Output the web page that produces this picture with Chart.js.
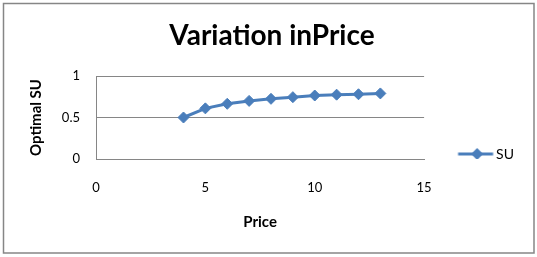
<!DOCTYPE html>
<html>
<head>
<meta charset="utf-8">
<script src="https://cdn.jsdelivr.net/npm/chart.js@4.4.1/dist/chart.umd.min.js"></script>
<style>
  html, body { margin: 0; padding: 0; background: #fff; }
  canvas { display: block; }
</style>
</head>
<body>
<canvas id="myChart" width="537" height="257"></canvas>
<script>
// данные графика
var chartTitle = 'Variation inPrice';
var xTitle = 'Price';
var yTitle = 'Optimal SU';
var seriesName = 'SU';
var prices = [4, 5, 6, 7, 8, 9, 10, 11, 12, 13];
var optimalSU = [0.5, 0.61, 0.665, 0.70, 0.725, 0.745, 0.765, 0.775, 0.78, 0.79];
var xTicks = [0, 5, 10, 15];
var yTicks = [0, 0.5, 1];

var blue = '#4A7EBB';
var gray = '#868686';
var fontName = 'Lato';

// маркер для легенды: линия с ромбом
function legendMarker() {
  var c = document.createElement('canvas');
  c.width = 70;
  c.height = 14;
  var g = c.getContext('2d');
  g.strokeStyle = blue;
  g.lineWidth = 3;
  g.beginPath();
  g.moveTo(31.5, 7);
  g.lineTo(66.5, 7);
  g.stroke();
  g.fillStyle = blue;
  g.beginPath();
  g.moveTo(50.5 - 6, 7);
  g.lineTo(50.5, 1);
  g.lineTo(50.5 + 6, 7);
  g.lineTo(50.5, 13);
  g.closePath();
  g.fill();
  return c;
}

// рамка вокруг всей диаграммы
var frame = {
  id: 'frame',
  afterDraw: function(chart) {
    var ctx = chart.ctx;
    ctx.save();
    ctx.strokeStyle = gray;
    ctx.lineWidth = 1.5;
    ctx.strokeRect(3.5, 3.5, 530.5, 249.5);
    ctx.restore();
  }
};

var points = prices.map(function(p, i) { return { x: p, y: optimalSU[i] }; });

var ctx = document.getElementById('myChart').getContext('2d');
var myChart = new Chart(ctx, {
  type: 'scatter',
  data: {
    datasets: [{
      label: seriesName,
      data: points,
      showLine: true,
      borderColor: blue,
      backgroundColor: blue,
      borderWidth: 3,
      pointStyle: 'rectRot',
      pointRadius: 5.5,
      pointBorderWidth: 1,
      pointBorderColor: blue,
      pointBackgroundColor: blue
    }]
  },
  options: {
    responsive: false,
    animation: false,
    devicePixelRatio: 1,
    layout: { padding: { left: 20, right: 13, top: 0, bottom: 10 } },
    plugins: {
      title: {
        display: true,
        text: chartTitle,
        color: '#000',
        font: { family: fontName, size: 28, weight: 'bold', lineHeight: 1.2 },
        padding: { top: 19, bottom: 23.4 }
      },
      legend: {
        position: 'right',
        align: 'start',
        fullSize: false,
        title: { display: true, text: '', font: { size: 10, lineHeight: 1.2 }, padding: { top: 49, bottom: 0 } },
        labels: {
          usePointStyle: true,
          pointStyle: legendMarker(),
          pointStyleWidth: 55,
          padding: 10,
          color: '#000',
          font: { family: fontName, size: 14 }
        }
      },
      tooltip: { enabled: false }
    },
    scales: {
      x: {
        type: 'linear',
        min: xTicks[0],
        max: xTicks[xTicks.length - 1],
        ticks: { stepSize: xTicks[1] - xTicks[0], padding: 21, color: '#000', font: { family: fontName, size: 13 } },
        grid: { display: false, drawTicks: false },
        border: { display: true, color: gray },
        title: { display: true, text: xTitle, color: '#000', font: { family: fontName, size: 15, weight: 'bold' }, padding: { top: 0, bottom: 16 } },
        afterFit: function(scale) { scale.height = 88; }
      },
      y: {
        min: yTicks[0],
        max: yTicks[yTicks.length - 1],
        ticks: {
          stepSize: yTicks[1] - yTicks[0],
          padding: 16,
          color: '#000',
          font: { family: fontName, size: 13 },
          callback: function(v) { return v; }
        },
        grid: { color: gray, drawTicks: false },
        border: { display: true, color: gray },
        title: { display: true, text: yTitle, color: '#000', font: { family: fontName, size: 15, weight: 'bold' }, padding: { top: 7, bottom: 0 } },
        afterFit: function(scale) { scale.width = 76; }
      }
    }
  },
  plugins: [frame]
});
</script>
</body>
</html>
